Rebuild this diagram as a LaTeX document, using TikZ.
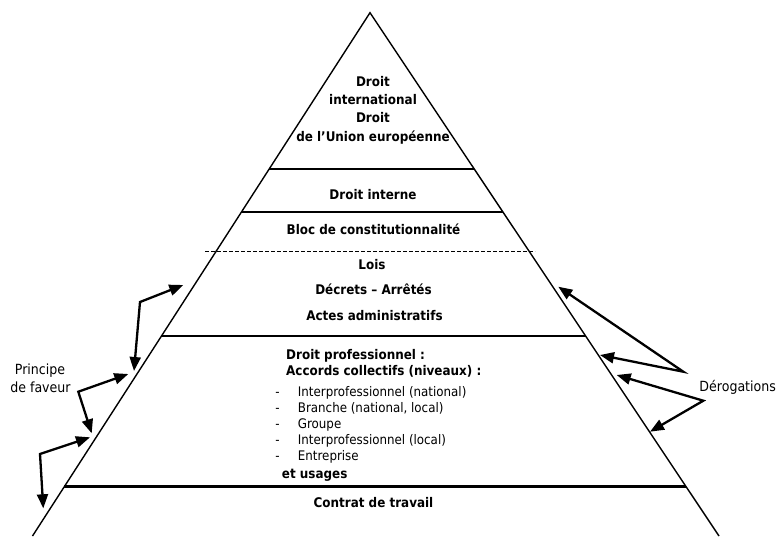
\documentclass[tikz,border=0pt]{standalone}
\usepackage{fontspec}
\setmainfont{DejaVu Sans Condensed}
\usetikzlibrary{arrows.meta,calc}
\begin{document}
\begin{tikzpicture}[x=1pt,y=-1pt,
  edge/.style={line width=1.4pt},
  level/.style={line width=2.2pt},
  sep/.style={line width=0.8pt, dash pattern=on 4pt off 2pt},
  arr/.style={line width=2.3pt, {Triangle[length=14pt,width=11pt]}-{Triangle[length=14pt,width=11pt]}, line join=miter},
  bt/.style={font=\fontsize{13.3}{15}\selectfont\bfseries, inner sep=0pt, anchor=base},
  btl/.style={font=\fontsize{13.3}{15}\selectfont\bfseries, inner sep=0pt, anchor=base west},
  rt/.style={font=\fontsize{13.2}{15}\selectfont, inner sep=0pt, anchor=base west},
  hyph/.style={font=\fontsize{13.2}{15}\selectfont, inner sep=0pt, anchor=base},
  lab/.style={font=\fontsize{14}{16}\selectfont, inner sep=0pt, anchor=base}
]
\useasboundingbox (0,0) rectangle (779,536);
% pyramid
\coordinate (apex) at (370,12.7);
\coordinate (bl) at (32.5,536);
\coordinate (br) at (719,536);
\draw[edge, line join=miter] (bl) -- (apex) -- (br);
% levels
\coordinate (l1a) at ($(apex)!0.2993!(bl)$);
\coordinate (l1b) at ($(apex)!0.2993!(br)$);
\coordinate (l2a) at ($(apex)!0.3803!(bl)$);
\coordinate (l2b) at ($(apex)!0.3803!(br)$);
\coordinate (l3a) at ($(apex)!0.6178!(bl)$);
\coordinate (l3b) at ($(apex)!0.6178!(br)$);
\coordinate (l4a) at ($(apex)!0.9054!(bl)$);
\coordinate (l4b) at ($(apex)!0.9054!(br)$);
\draw[level] (l1a) -- (l1b);
\draw[level] (l2a) -- (l2b);
\draw[level] (l3a) -- (l3b);
\draw[level] (l4a) -- (l4b);
\coordinate (d1) at (205,251);
\coordinate (d2) at (535,251);
\draw[sep] (d1) -- (d2);
% texts
\node[bt] (t1) at (373,86) {Droit};
\node[bt] (t2) at (373,104.5) {international};
\node[bt] (t3) at (373,122.5) {Droit};
\node[bt] (t4) at (373,141) {de l’Union européenne};
\node[bt] (t5) at (373,199.5) {Droit interne};
\node[bt] (t6) at (373.5,234) {Bloc de constitutionnalité};
\node[bt] (t7) at (372,269.5) {Lois};
\node[bt] (t8) at (373.5,294.5) {Décrets – Arrêtés};
\node[bt] (t9) at (374.5,320.5) {Actes administratifs};
\node[btl] (t10) at (286,359) {Droit professionnel :};
\node[btl] (t11) at (286,375) {Accords collectifs (niveaux) :};
\node[hyph] (h1) at (277.5,396) {-};
\node[rt] (i1) at (297.7,396) {Interprofessionnel (national)};
\node[hyph] (h2) at (277.5,412.2) {-};
\node[rt] (i2) at (297.7,412.2) {Branche (national, local)};
\node[hyph] (h3) at (277.5,428.4) {-};
\node[rt] (i3) at (297.7,428.4) {Groupe};
\node[hyph] (h4) at (277.5,444.6) {-};
\node[rt] (i4) at (297.7,444.6) {Interprofessionnel (local)};
\node[hyph] (h5) at (277.5,460.8) {-};
\node[rt] (i5) at (297.7,460.8) {Entreprise};
\node[btl] (t12) at (281.7,478.5) {et usages};
\node[bt] (t13) at (373.5,507.5) {Contrat de travail};
\node[lab] (pf1) at (40,374.5) {Principe};
\node[lab] (pf2) at (40.5,392.5) {de faveur};
\node[lab] (der) at (737.7,391) {Dérogations};
% principe de faveur arrows
\coordinate (a1) at (183.3,285);
\coordinate (a2) at (140,302);
\coordinate (a3) at (134,371);
\draw[arr] (a1) -- (a2) -- (a3);
\coordinate (b1) at (128.3,374);
\coordinate (b2) at (78.3,391.7);
\coordinate (b3) at (91.7,433.3);
\draw[arr] (b1) -- (b2) -- (b3);
\coordinate (c1) at (90,437.3);
\coordinate (c2) at (40,454);
\coordinate (c3) at (43.3,508.3);
\draw[arr] (c1) -- (c2) -- (c3);
% derogations arrows
\coordinate (e1) at (558.3,286.7);
\coordinate (e2) at (683.3,371.7);
\coordinate (e3) at (600,355);
\draw[arr] (e1) -- (e2) -- (e3);
\coordinate (f1) at (616.7,375);
\coordinate (f2) at (703.3,400.7);
\coordinate (f3) at (650,431.7);
\draw[arr] (f1) -- (f2) -- (f3);
\end{tikzpicture}
\end{document}
